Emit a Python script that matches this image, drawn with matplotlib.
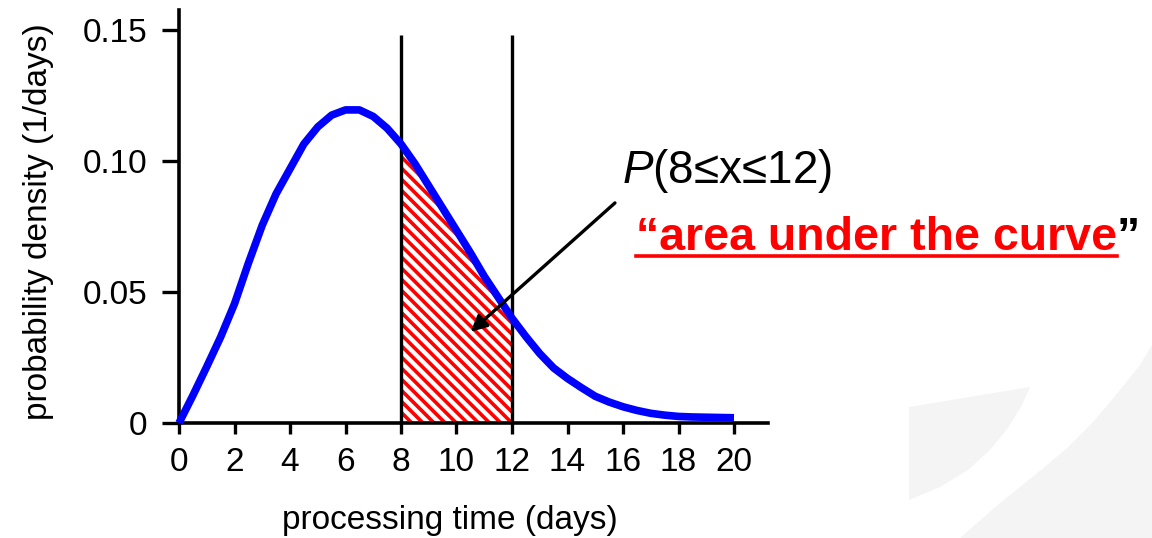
import numpy as np
import matplotlib
matplotlib.use('Agg')
import matplotlib.pyplot as plt
from matplotlib.lines import Line2D
from matplotlib.patches import Polygon

# curve, every half day
days = np.arange(0, 20.5, 0.5)
density = [0.000, 0.0105, 0.0215, 0.0328, 0.0455, 0.061, 0.0755, 0.0875,
           0.097, 0.1065, 0.113, 0.1175, 0.1195, 0.1195, 0.117, 0.1125,
           0.1065, 0.099, 0.0905, 0.082, 0.0735, 0.065, 0.056, 0.048,
           0.040, 0.033, 0.0265, 0.021, 0.017, 0.0135, 0.0102, 0.008,
           0.0062, 0.0048, 0.0037, 0.003, 0.0025, 0.0023, 0.0022, 0.0021,
           0.0020]

area_from, area_to = 8, 12
x_ticks = list(range(0, 21, 2))
y_ticks = [0, 0.05, 0.10, 0.15]
y_tick_labels = ['0', '0.05', '0.10', '0.15']

arrow_tail = (15.71, 0.084)
arrow_head = (10.51, 0.0348)

W, H = 1152, 538
plt.rcParams['font.family'] = ['Liberation Sans', 'DejaVu Sans']
plt.rcParams['hatch.color'] = 'red'
plt.rcParams['hatch.linewidth'] = 2.6
plt.rcParams['mathtext.fontset'] = 'custom'
plt.rcParams['mathtext.it'] = 'Liberation Sans:italic'
plt.rcParams['mathtext.rm'] = 'Liberation Sans'

fig = plt.figure(figsize=(W / 100, H / 100), dpi=100)


def px(x, y):
    # pixel position (from top-left) -> figure fraction
    return x / W, 1 - y / H


# faint slide decoration in the lower right
shape1 = [(909, 407), (1030, 387), (1022, 405), (1008, 428), (990, 450), (968, 470),
          (940, 487), (909, 500)]
shape2 = [(1152, 345), (1140, 365), (1120, 390), (1095, 420), (1065, 450), (1035, 475),
          (1000, 503), (960, 538), (1152, 538)]
for s in (shape1, shape2):
    fig.patches.append(Polygon([px(*p) for p in s], closed=True, transform=fig.transFigure,
                               facecolor='#f4f4f4', edgecolor='none', zorder=0))

ax = fig.add_axes([179 / W, 1 - 423 / H, 589 / W, 413 / H])
ax.set_facecolor('none')
ax.set_xlim(0, 589 / 27.75)
ax.set_ylim(0, 413 / 2620)

days = np.asarray(days)
density = np.asarray(density)
sel = (days >= area_from) & (days <= area_to)
ax.fill_between(days[sel], 0, density[sel], facecolor='white', edgecolor='red',
                hatch='\\\\\\', linewidth=0, zorder=1)
ax.vlines([area_from, area_to], 0, 0.148, color='black', lw=2.4, zorder=2)
ax.plot(days, density, color='#0000ff', lw=5.5, solid_capstyle='butt', zorder=3, clip_on=False)

ax.annotate('', xy=arrow_head, xytext=arrow_tail,
            arrowprops=dict(arrowstyle='-|>', lw=2.4, color='black', mutation_scale=24,
                            shrinkA=0, shrinkB=0), zorder=4)

for side in ('top', 'right'):
    ax.spines[side].set_visible(False)
for side in ('left', 'bottom'):
    ax.spines[side].set_linewidth(2.6)

ax.set_xticks(x_ticks)
ax.set_yticks(y_ticks)
ax.set_yticklabels(y_tick_labels)
ax.tick_params(axis='y', direction='out', length=12, width=2.4, pad=11, labelsize=24)
ax.tick_params(axis='x', direction='out', length=8, width=2.4, pad=9, labelsize=24)

ax.set_xlabel('processing time (days)', fontsize=24)
ax.xaxis.set_label_coords(0.46, -0.199)
ax.set_ylabel('probability density (1/days)', fontsize=24, va='center')
ax.yaxis.set_label_coords(-0.2377, 0.487)

fig.text(*px(622, 183), r'$P$(8≤x≤12)', fontsize=33, va='baseline', ha='left')

red = fig.text(*px(636, 250), '\u201carea under the curve', fontsize=33.5, fontweight='bold',
               color='red', va='baseline', ha='left')
fig.canvas.draw()
bb = red.get_window_extent().transformed(fig.transFigure.inverted())
fig.text(bb.x1 - 1 / W, px(0, 250)[1], '\u201d', fontsize=33.5, fontweight='bold',
         color='black', va='baseline', ha='left')
fig.lines.append(Line2D([bb.x0, bb.x1], [px(0, 256)[1]] * 2, transform=fig.transFigure,
                        color='red', lw=2.6))

fig.savefig('out.png', dpi=100)
